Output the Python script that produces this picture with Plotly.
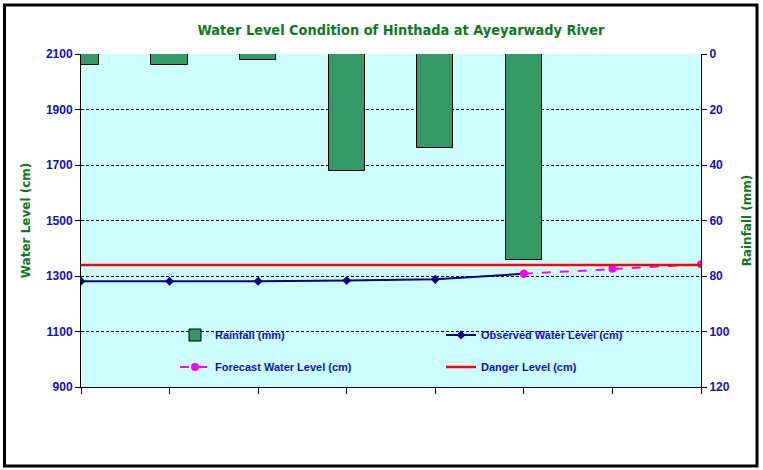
import plotly.graph_objects as go

# categories (8 days, no labels shown on the axis)
days = [0, 1, 2, 3, 4, 5, 6, 7]

# rainfall in mm for each day
rainfall = [3.8, 3.8, 2.2, 42.3, 33.9, 74.2, None, None]

# observed water level (cm)
obs_days = [0, 1, 2, 3, 4, 5]
observed = [1281, 1281, 1281, 1284, 1288, 1308]

# forecast water level (cm)
fc_days = [5, 6, 7]
forecast = [1308, 1326, 1342]

# danger level (cm)
danger = [1340, 1340, 1340, 1340, 1340, 1340, 1340, 1340]

W, H = 763, 470
L, R, T, B = 81, 62, 54, 83
pw, ph = W - L - R, H - T - B

def px_x(v):
    return (v - L) / pw

def px_y(v):
    return 1 - (v - T) / ph

blue = "#1010C8"
green = "#0A7A1E"
leg_font = dict(family="Liberation Sans, Arial", size=11, color=blue, weight="bold")

fig = go.Figure()

fig.add_trace(go.Bar(
    x=days, y=rainfall, yaxis="y2", name="Rainfall (mm)", legend="legend",
    width=0.41, marker=dict(color="#339966", line=dict(color="black", width=1)),
))

fig.add_trace(go.Scatter(
    x=obs_days, y=observed, name="Observed Water Level (cm)", mode="lines+markers",
    legend="legend",
    line=dict(color="#000080", width=2),
    marker=dict(symbol="diamond", size=7, color="#000080"),
))

fig.add_trace(go.Scatter(
    x=fc_days, y=forecast, name="Forecast Water Level (cm)", mode="lines+markers",
    legend="legend2",
    line=dict(color="#FF00FF", width=2, dash="dash"),
    marker=dict(symbol="circle", size=8, color="#FF00FF"),
))

fig.add_trace(go.Scatter(
    x=days, y=danger, name="Danger Level (cm)", mode="lines", legend="legend2",
    line=dict(color="#FF0000", width=2.5),
))

# outer chart frame
fig.add_shape(type="rect", xref="paper", yref="paper",
              x0=px_x(4.5), x1=px_x(757), y0=px_y(466), y1=px_y(5),
              line=dict(color="black", width=3), layer="below")

legend_common = dict(
    orientation="h", xanchor="left", yanchor="middle",
    entrywidth=221, entrywidthmode="pixels",
    bgcolor="rgba(0,0,0,0)", font=leg_font, itemwidth=30,
)

fig.update_layout(
    width=W, height=H,
    margin=dict(l=L, r=R, t=T, b=B),
    paper_bgcolor="white",
    plot_bgcolor="#CCFFFF",
    font=dict(family="Liberation Sans, Arial", color=blue, size=12),
    title=dict(
        text="<b>Water Level Condition of Hinthada at Ayeyarwady River</b>",
        x=401 / W, xanchor="center", y=1 - 30 / H, yanchor="middle",
        font=dict(family="DejaVu Sans Condensed, DejaVu Sans", size=14.4, color=green),
    ),
    xaxis=dict(
        range=[0, 7], tickvals=days, showticklabels=False,
        ticks="outside", ticklen=6, tickcolor="black",
        showline=True, linecolor="black", linewidth=1,
        showgrid=False, zeroline=False,
    ),
    yaxis=dict(
        range=[900, 2100], dtick=200, tick0=900,
        ticks="outside", ticklen=5, tickcolor="black",
        showline=True, linecolor="black", linewidth=1,
        showgrid=True, gridcolor="black", griddash="3px,2px", gridwidth=1,
        zeroline=False,
        tickfont=dict(family="Liberation Sans, Arial", size=12, color=blue, weight="bold"),
        title=dict(text="<b>Water Level (cm)</b>", standoff=12,
                   font=dict(family="DejaVu Sans", size=12, color=green)),
    ),
    yaxis2=dict(
        overlaying="y", side="right", range=[120, 0], dtick=20,
        ticks="outside", ticklen=5, tickcolor="black",
        showline=True, linecolor="black", linewidth=1,
        showgrid=False, zeroline=False,
        tickfont=dict(family="Liberation Sans, Arial", size=12, color=blue, weight="bold"),
        title=dict(text="<b>Rainfall (mm)</b>", standoff=13,
                   font=dict(family="DejaVu Sans", size=12, color=green)),
    ),
    legend=dict(x=px_x(175), y=px_y(335), **legend_common),
    legend2=dict(x=px_x(175), y=px_y(367), **legend_common),
    showlegend=True,
    bargap=0,
)

fig.write_html("out.html", config={"displayModeBar": False},
               post_script="document.body.style.margin='0';")
